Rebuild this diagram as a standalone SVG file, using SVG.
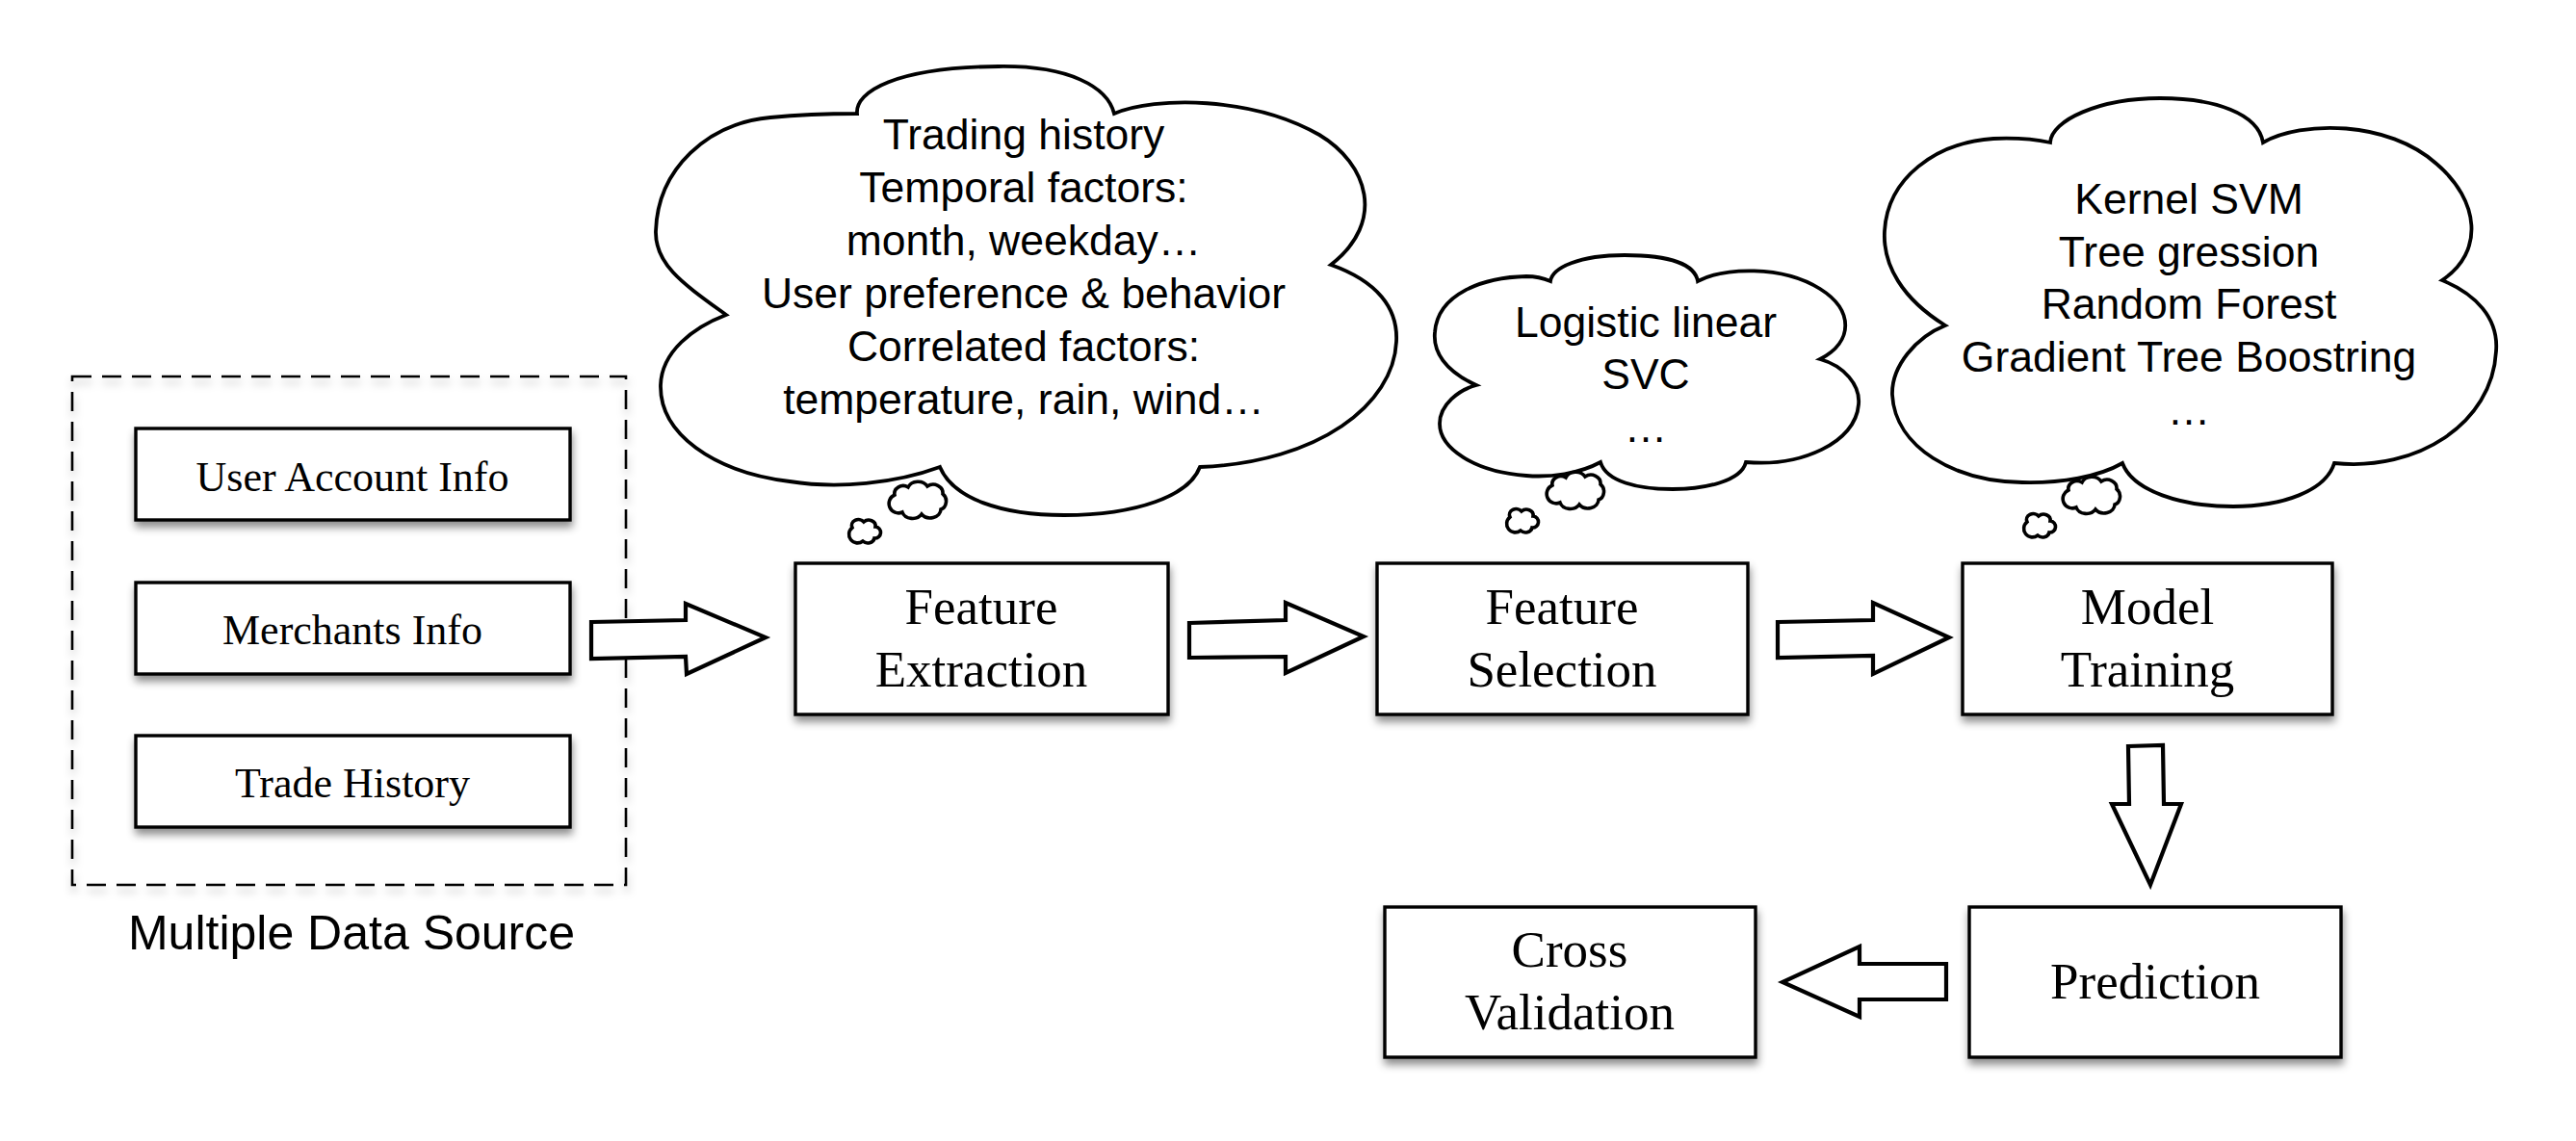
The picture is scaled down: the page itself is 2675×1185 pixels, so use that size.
<svg xmlns="http://www.w3.org/2000/svg" xmlns:xlink="http://www.w3.org/1999/xlink" width="2675" height="1185" viewBox="0 0 2675 1185">
<defs>
<style>
.box{fill:#fff;stroke:#000;stroke-width:3.4;filter:url(#sh);}
.dash{fill:none;stroke:#000;stroke-width:2.6;stroke-dasharray:20 11;filter:url(#sh2);}
.cloud{fill:#fff;stroke:#000;stroke-width:3.8;stroke-linejoin:miter;}
.puff{fill:#fff;stroke:#000;stroke-width:3.6;stroke-linejoin:miter;}
.arrow{fill:#fff;stroke:#000;stroke-width:4.2;stroke-linejoin:miter;stroke-miterlimit:10;}
.serif{font-family:"Liberation Serif","Times New Roman",serif;fill:#000;text-anchor:middle;}
.sans{font-family:"Liberation Sans",Arial,sans-serif;fill:#000;text-anchor:middle;}
.s44{font-size:44px;}
.s53{font-size:53px;}
.c45{font-size:44.5px;}
</style>
<filter id="sh" x="-10%" y="-20%" width="120%" height="150%">
<feDropShadow dx="1" dy="6" stdDeviation="4" flood-color="#000" flood-opacity="0.45"/>
</filter>
<filter id="sh2" x="-5%" y="-5%" width="110%" height="115%">
<feDropShadow dx="1" dy="6" stdDeviation="4" flood-color="#000" flood-opacity="0.25"/>
</filter>
<path id="puffM" class="puff" d="M10,14 A9,8 0 0 1 24,6 A11,9 0 0 1 44,5 A10,9 0 0 1 60,13 A8,9 0 0 1 58,29 A11,9 0 0 1 38,34 A11,9 0 0 1 18,32 A8,8 0 0 1 10,14 Z"/>
<path id="puffS" class="puff" d="M5,9 A7,6 0 0 1 17,3 A7,6 0 0 1 29,8 A6,6 0 0 1 28,20 A7,6 0 0 1 16,23 A6,6 0 0 1 5,9 Z"/>
</defs>
<rect width="2675" height="1185" fill="#fff"/>

<g id="data-source">
<rect class="dash" x="75" y="391" width="575" height="528"/>
<text class="sans" x="365" y="986" font-size="50">Multiple Data Source</text>
</g>
<g id="user-account-info">
<rect class="box" x="141" y="445" width="451" height="95"/>
<text class="serif s44" x="366" y="510">User Account Info</text>
</g>
<g id="merchants-info">
<rect class="box" x="141" y="605" width="451" height="95"/>
<text class="serif s44" x="366" y="669">Merchants Info</text>
</g>
<g id="trade-history">
<rect class="box" x="141" y="764" width="451" height="95"/>
<text class="serif s44" x="366" y="828">Trade History</text>
</g>

<g id="feature-extraction">
<rect class="box" x="826" y="585" width="387" height="157"/>
<text class="serif s53" x="1019" y="648">Feature</text>
<text class="serif s53" x="1019" y="713">Extraction</text>
</g>
<g id="feature-selection">
<rect class="box" x="1430" y="585" width="385" height="157"/>
<text class="serif s53" x="1622" y="648">Feature</text>
<text class="serif s53" x="1622" y="713">Selection</text>
</g>
<g id="model-training">
<rect class="box" x="2038" y="585" width="384" height="157"/>
<text class="serif s53" x="2230" y="648">Model</text>
<text class="serif s53" x="2230" y="713">Training</text>
</g>
<g id="prediction">
<rect class="box" x="2045" y="942" width="386" height="156"/>
<text class="serif s53" x="2238" y="1037">Prediction</text>
</g>
<g id="cross-validation">
<rect class="box" x="1438" y="942" width="385" height="156"/>
<text class="serif s53" x="1630" y="1004">Cross</text>
<text class="serif s53" x="1630" y="1069">Validation</text>
</g>

<g id="cloud-features">
<path class="cloud" d="M754,327 C710,295 680,275 681,240 C683,175 735,128 800,122 C840,118 870,118 890,118 C888,95 930,70 1037,69 C1110,68 1150,90 1157,118 C1200,100 1300,100 1370,140 C1420,170 1440,230 1382,275 C1430,292 1452,320 1450,355 C1447,420 1370,480 1246,485 C1235,515 1180,535 1105,535 C1040,535 990,518 976,485 C930,502 870,508 820,500 C740,490 685,450 686,400 C687,365 720,340 754,327 Z"/>
<use xlink:href="#puffM" href="#puffM" x="919" y="500"/>
<use xlink:href="#puffS" href="#puffS" x="880" y="539"/>
<text class="sans c45" x="1063" y="155">Trading history</text>
<text class="sans c45" x="1063" y="210">Temporal factors:</text>
<text class="sans c45" x="1063" y="265">month, weekday…</text>
<text class="sans c45" x="1063" y="320">User preference &amp; behavior</text>
<text class="sans c45" x="1063" y="375">Correlated factors:</text>
<text class="sans c45" x="1063" y="430">temperature, rain, wind…</text>
</g>

<g id="cloud-selection">
<path class="cloud" d="M1533,400 C1500,385 1488,365 1490,345 C1493,305 1540,288 1585,287 C1595,287 1603,289 1610,292 C1612,278 1640,265 1687,265 C1735,265 1760,275 1763,292 C1790,278 1850,275 1890,300 C1925,322 1925,355 1890,373 C1915,380 1932,400 1930,420 C1927,460 1870,485 1813,480 C1808,500 1770,508 1737,508 C1700,508 1668,500 1662,480 C1640,492 1610,496 1585,494 C1530,490 1495,465 1495,440 C1495,420 1515,405 1533,400 Z"/>
<use xlink:href="#puffM" href="#puffM" x="1602" y="490"/>
<use xlink:href="#puffS" href="#puffS" x="1563" y="528"/>
<text class="sans c45" x="1709" y="350">Logistic linear</text>
<text class="sans c45" x="1709" y="404">SVC</text>
<text class="sans c45" x="1709" y="459">…</text>
</g>

<g id="cloud-models">
<path class="cloud" d="M2020,338 C1975,310 1955,275 1957,240 C1960,185 2010,148 2070,144 C2095,143 2115,145 2129,148 C2130,125 2180,102 2243,102 C2300,102 2345,118 2350,148 C2390,125 2480,125 2530,170 C2575,208 2580,262 2536,291 C2570,305 2595,330 2592,365 C2588,440 2510,490 2424,481 C2415,510 2370,526 2319,526 C2265,526 2215,510 2204,481 C2180,495 2140,502 2100,501 C2030,500 1968,465 1965,410 C1964,380 1990,350 2020,338 Z"/>
<use xlink:href="#puffM" href="#puffM" x="2138" y="495"/>
<use xlink:href="#puffS" href="#puffS" x="2100" y="533"/>
<text class="sans c45" x="2273" y="222">Kernel SVM</text>
<text class="sans c45" x="2273" y="277">Tree gression</text>
<text class="sans c45" x="2273" y="331">Random Forest</text>
<text class="sans c45" x="2273" y="386">Gradient Tree Boostring</text>
<text class="sans c45" x="2273" y="441">…</text>
</g>

<g id="connectors">
<polygon class="arrow" points="614,646 712,644 712,627 795,662 713,700 712,682 614,684"/>
<polygon class="arrow" points="1235,647 1335,644 1335,626 1416,661 1335,699 1335,682 1235,683"/>
<polygon class="arrow" points="1846,646 1945,644 1945,626 2024,662 1945,700 1945,681 1846,683"/>
<polygon class="arrow" points="2210,775 2246,774 2247,835 2265,835 2233,919 2193,835 2211,835"/>
<polygon class="arrow" points="2021,1001 1931,1001 1931,983 1851,1020 1931,1056 1931,1038 2021,1038"/>
</g>
</svg>
